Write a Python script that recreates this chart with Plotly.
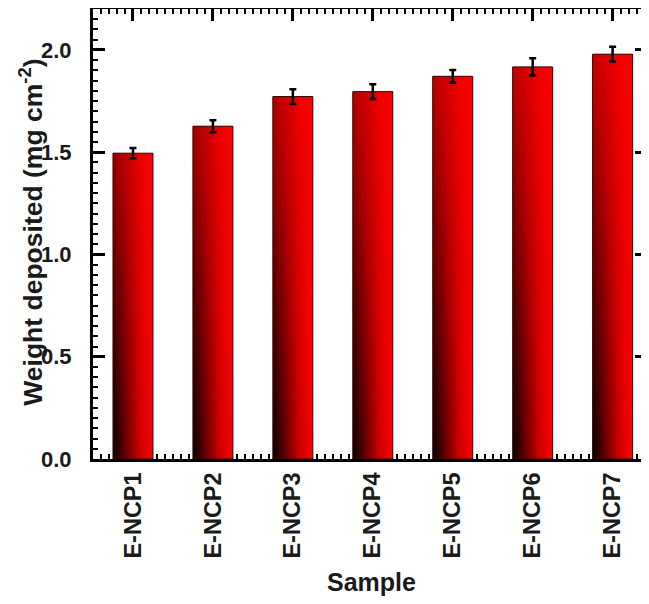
import plotly.graph_objects as go

samples = ["E-NCP1", "E-NCP2", "E-NCP3", "E-NCP4", "E-NCP5", "E-NCP6", "E-NCP7"]
weights = [1.495, 1.627, 1.772, 1.796, 1.871, 1.917, 1.979]
errors = [0.025, 0.029, 0.036, 0.036, 0.031, 0.042, 0.036]

xpos = list(range(1, len(samples) + 1))
half = 0.25

fig = go.Figure()

for x, v in zip(xpos, weights):
    px = [x - half, x + half, x + half, x - half, x - half]
    py = [0, 0, v, v, 0]
    # horizontal dark-to-red gradient
    fig.add_trace(go.Scatter(
        x=px, y=py, mode="lines", fill="toself",
        line=dict(width=0, color="rgba(0,0,0,0)"),
        fillgradient=dict(type="horizontal",
                          colorscale=[[0, "#000000"], [0.3, "#5a0000"], [0.65, "#c80000"], [1, "#ff0000"]]),
        hoverinfo="skip", showlegend=False))
    # vertical red overlay, stronger towards the top
    fig.add_trace(go.Scatter(
        x=px, y=py, mode="lines", fill="toself",
        line=dict(width=1, color="#3a0000"),
        fillgradient=dict(type="vertical", start=0, stop=2.2,
                          colorscale=[[0, "rgba(255,0,0,0)"], [1, "rgba(255,0,0,0.85)"]]),
        hoverinfo="skip", showlegend=False))

fig.add_trace(go.Scatter(
    x=xpos, y=weights, mode="markers", marker=dict(size=1, color="rgba(0,0,0,0)"),
    error_y=dict(type="data", array=errors, visible=True, color="black", thickness=2.5, width=3.5),
    hoverinfo="skip", showlegend=False))

font_family = "Arial, 'Liberation Sans', sans-serif"
txt = "#1a1a1a"

fig.update_layout(
    width=649, height=604,
    margin=dict(l=85, r=10, t=1, b=153),
    paper_bgcolor="white", plot_bgcolor="white",
    font=dict(family=font_family, color=txt),
    xaxis=dict(
        range=[0.5, 7.43], tickmode="array", tickvals=xpos, ticktext=samples,
        tickangle=-90, tickfont=dict(size=23.5, weight="bold", family=font_family, color=txt),
        ticks="inside", ticklen=12, tickwidth=3, tickcolor="black",
        minor=dict(ticks="inside", dtick=0.1, tick0=0.5, ticklen=5, tickwidth=2, tickcolor="black"),
        showline=True, linewidth=3, linecolor="black", mirror="allticks",
        showgrid=False, zeroline=False, layer="below traces", automargin=False,
        ticklabelstandoff=1,
    ),
    yaxis=dict(
        range=[0, 2.2], tickmode="linear", tick0=0, dtick=0.5, tickformat=".1f",
        tickfont=dict(size=22, weight="bold", family=font_family, color=txt),
        ticks="inside", ticklen=12, tickwidth=3, tickcolor="black",
        minor=dict(ticks="inside", dtick=0.05, ticklen=5, tickwidth=2, tickcolor="black"),
        showline=True, linewidth=3, linecolor="black", mirror="allticks",
        showgrid=False, zeroline=False, layer="below traces", automargin=False,
        ticklabelstandoff=14,
    ),
    annotations=[
        dict(text="Weight deposited (mg cm<sup>-2</sup>)", xref="paper", yref="paper",
             x=-0.112, y=0.505, xanchor="center", yanchor="middle", textangle=-90,
             showarrow=False, font=dict(size=26.5, weight="bold", family=font_family, color=txt)),
        dict(text="Sample", xref="paper", yref="paper",
             x=0.503, y=-0.2727, xanchor="center", yanchor="middle",
             showarrow=False, font=dict(size=25, weight="bold", family=font_family, color=txt)),
    ],
)

fig.write_html("out.html")
